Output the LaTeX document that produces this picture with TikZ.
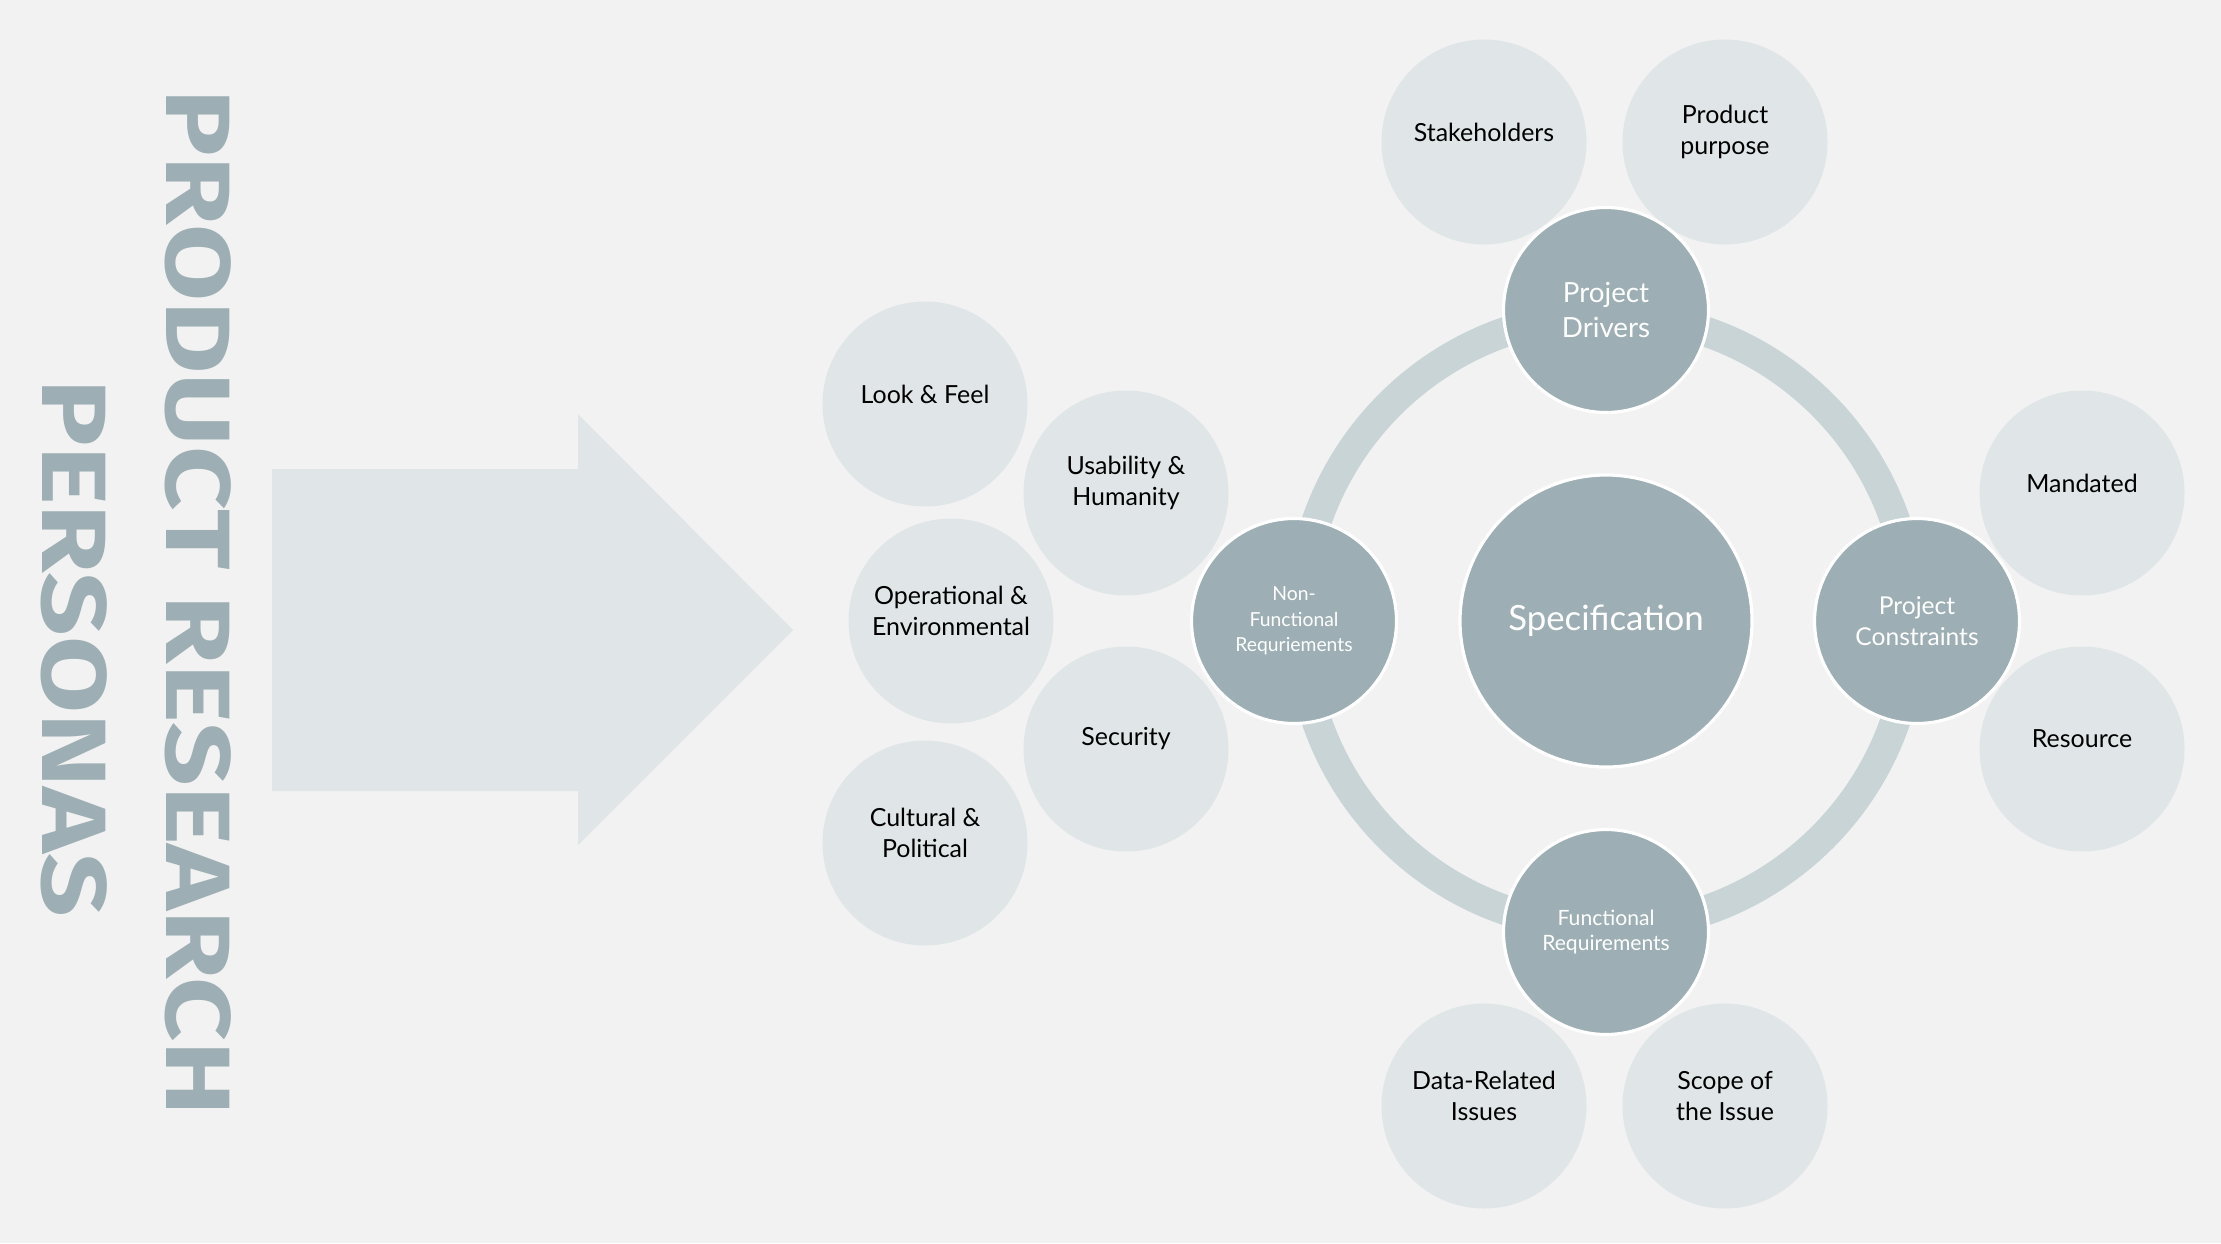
\documentclass[tikz,border=0pt]{standalone}
\usepackage{fontspec}
\setmainfont{Lato}
\newfontfamily\titlefont{Fira Sans}[FakeStretch=1.22]
\usepackage{tikz}
\usetikzlibrary{positioning}
\usepackage{xcolor}
\definecolor{pagegray}{RGB}{242,242,242}
\definecolor{bubblegray}{RGB}{224,229,231}
\definecolor{ringgray}{RGB}{200,212,214}
\definecolor{hubgray}{RGB}{157,175,180}

\begin{document}
\begin{tikzpicture}[
    bubble/.style={circle,fill=bubblegray,minimum size=2.05cm,inner sep=0pt},
    bubbletext/.style={align=center,inner sep=0pt,text=black,font=\fontsize{7.1}{8.6}\selectfont},
    hub/.style={circle,fill=hubgray,draw=white,line width=0.9pt,minimum size=2.05cm,
      inner sep=0pt,align=center,text=white},
    titletext/.style={rotate=-90,anchor=base,inner sep=0pt,text=hubgray,
      font=\titlefont\bfseries\fontsize{26}{30}\selectfont}
  ]
  \def\rr{3.06}
  \fill[pagegray] (0,0) rectangle (22.21,12.43);
  \useasboundingbox (0,0) rectangle (22.21,12.43);
  % title, reading downwards
  \node[titletext] (research) at (1.66,6.40) {PRODUCT RESEARCH};
  \node[titletext] (personas) at (0.42,5.95) {PERSONAS};
  % big arrow
  \fill[bubblegray] (2.72,7.74) -- (5.78,7.74) -- (5.78,8.29) -- (7.93,6.13)
    -- (5.78,3.98) -- (5.78,4.52) -- (2.72,4.52) -- cycle;
  % centre and ring
  \node[circle,fill=hubgray,draw=white,line width=0.9pt,minimum size=2.92cm,inner sep=0pt,
    text=white,font=\fontsize{9.9}{12}\selectfont] (spec) at (16.06,6.22) {Specification};
  \draw[ringgray,line width=0.30cm] (spec) circle (\rr);
  % outer bubbles
  \foreach \x/\y/\n/\t in {14.84/11.01/stake/Stakeholders,
      17.25/11.01/purpose/{Product\\purpose},
      20.82/7.50/mandated/Mandated,
      20.82/4.94/resource/Resource,
      14.84/1.37/datarel/{Data-Related\\Issues},
      17.25/1.37/scope/{Scope of\\the Issue},
      9.25/8.39/look/{Look \& Feel},
      11.26/7.50/usab/{Usability \&\\Humanity},
      9.51/6.22/oper/{Operational \&\\Environmental},
      11.26/4.94/secur/Security,
      9.25/4.00/cult/{Cultural \&\\Political}} {
    \node[bubble] (\n) at (\x,\y) {};
    \node[bubbletext] at ([yshift=1mm]\n.center) {\t};
  }
  % hubs on the ring
  \node[hub,font=\fontsize{7.9}{10}\selectfont] (drivers) at (16.06,9.33) {Project\\Drivers};
  \node[hub,font=\fontsize{7}{9}\selectfont] (constr) at (19.17,6.22) {Project\\Constraints};
  \node[hub,font=\fontsize{5.5}{7.3}\selectfont] (nonfunc) at (12.94,6.22) {Non-\\Functional\\Requriements};
  \node[hub,font=\fontsize{6}{7.1}\selectfont] (func) at (16.06,3.11) {Functional\\Requirements};
\end{tikzpicture}
\end{document}
